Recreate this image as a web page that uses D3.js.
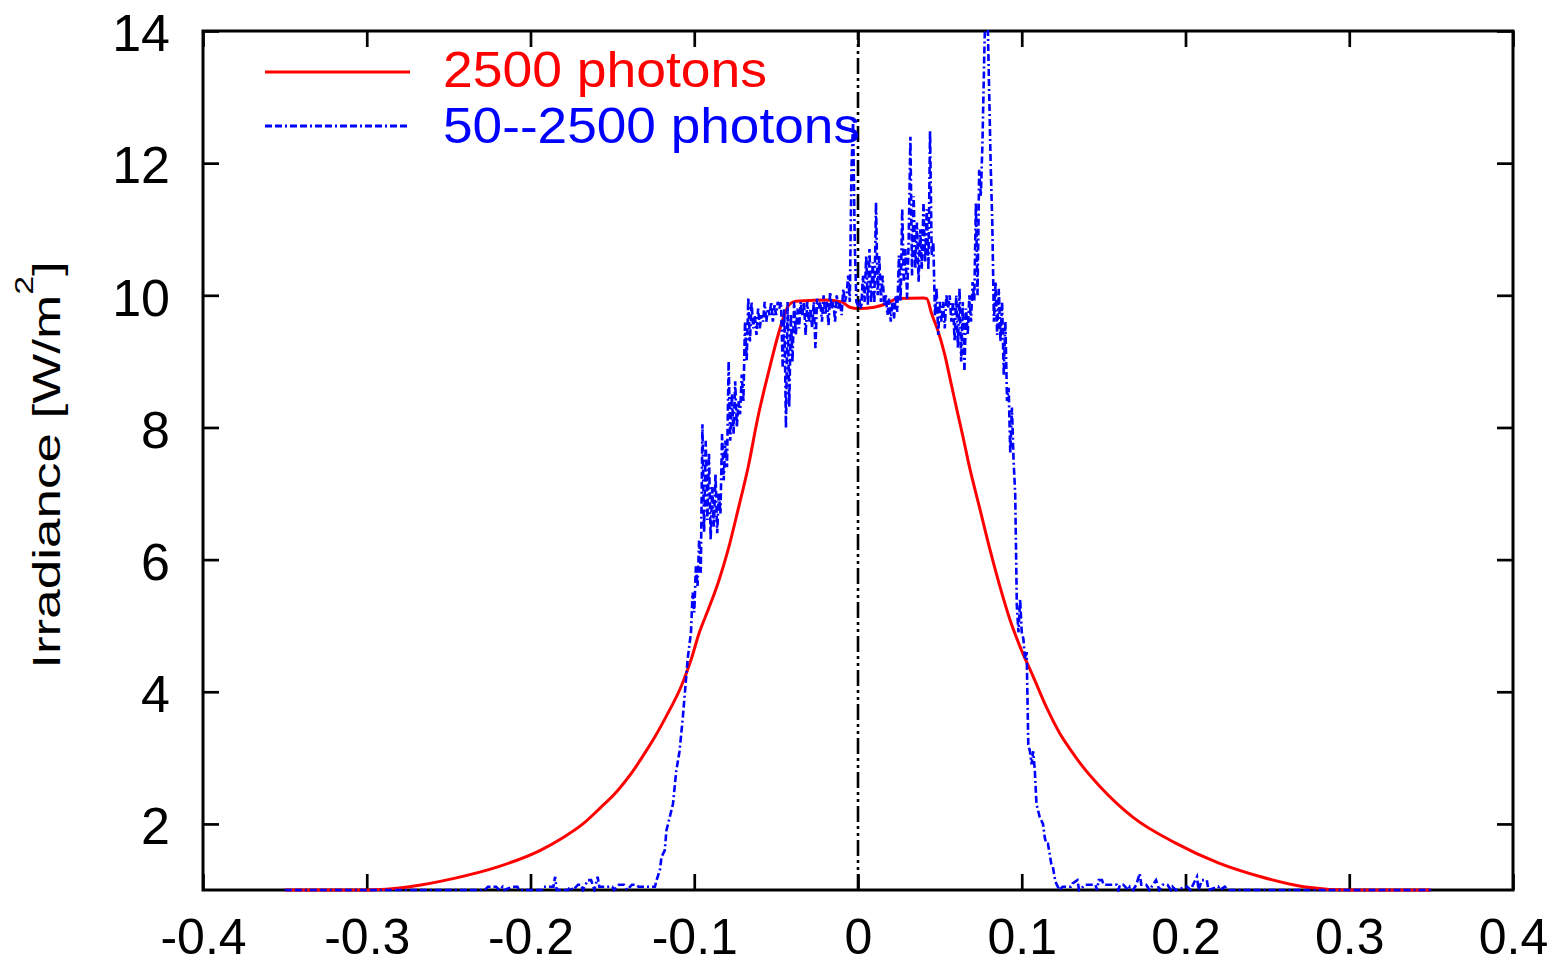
<!DOCTYPE html>
<html>
<head>
<meta charset="utf-8">
<script src="https://cdn.jsdelivr.net/npm/d3@7"></script>
<style>
html,body{margin:0;padding:0;background:#fff;}
svg{display:block;}
text{font-family:"Liberation Sans", Arial, Helvetica, sans-serif;}
</style>
</head>
<body>
<svg id="chart" width="1555" height="966"></svg>
<script>
// ---------- DATA ----------
const xTicks = [-0.4, -0.3, -0.2, -0.1, 0, 0.1, 0.2, 0.3, 0.4];
const xTickLabels = ["-0.4", "-0.3", "-0.2", "-0.1", "0", "0.1", "0.2", "0.3", "0.4"];
const yTicks = [2, 4, 6, 8, 10, 12, 14];
const yTickLabels = ["2", "4", "6", "8", "10", "12", "14"];
const seriesNames = ["2500 photons", "50--2500 photons"];
const yAxisTitle = "Irradiance [W/m";
const yAxisTitleSup = "2";

// red: 2500 photons
const redX = [-0.350, -0.300, -0.274, -0.246, -0.220, -0.194, -0.181, -0.168, -0.1575, -0.147,
  -0.138, -0.129, -0.124, -0.116, -0.108, -0.102, -0.097, -0.0915, -0.0854, -0.0793,
  -0.0732, -0.067, -0.061, -0.057, -0.053, -0.049, -0.045, -0.042, -0.038, -0.030,
  -0.020, -0.010, -0.005, 0.000, 0.010, 0.018, 0.024, 0.040, 0.042, 0.045,
  0.049, 0.053, 0.057, 0.061, 0.0641, 0.068, 0.0745, 0.0806, 0.0867, 0.0928,
  0.099, 0.107, 0.115, 0.123, 0.131, 0.1356, 0.148, 0.168, 0.194, 0.220,
  0.246, 0.272, 0.300, 0.350];
const redY = [1.0, 1.0, 1.05, 1.18, 1.35, 1.6, 1.78, 2.0, 2.24, 2.5,
  2.78, 3.12, 3.32, 3.68, 4.08, 4.48, 4.89, 5.24, 5.65, 6.15,
  6.76, 7.41, 8.17, 8.6, 9.0, 9.38, 9.7, 9.86, 9.91, 9.92,
  9.93, 9.9, 9.82, 9.8, 9.82, 9.88, 9.95, 9.96, 9.95, 9.72,
  9.45, 9.1, 8.65, 8.2, 7.86, 7.41, 6.76, 6.15, 5.59, 5.09,
  4.68, 4.23, 3.77, 3.38, 3.08, 2.92, 2.56, 2.1, 1.71, 1.41,
  1.2, 1.05, 1.0, 1.0];

// blue: 50--2500 photons
const blueX = [
  -0.350, -0.300, -0.240, -0.228, -0.226, -0.221, -0.219, -0.217, -0.216, -0.211,
  -0.208, -0.207, -0.193, -0.192, -0.186, -0.185, -0.184, -0.177, -0.176, -0.174,
  -0.171, -0.169, -0.168, -0.165, -0.163, -0.161, -0.159, -0.158, -0.150, -0.149,
  -0.146, -0.143, -0.141, -0.138, -0.136, -0.134, -0.124, -0.123, -0.121, -0.120,
  -0.118, -0.117, -0.115, -0.113, -0.111, -0.109, -0.107, -0.105, -0.104, -0.102,
  -0.101, -0.100, -0.099, -0.098, -0.097, -0.096, -0.095, -0.094, -0.093, -0.092,
  -0.091, -0.090, -0.089, -0.088, -0.087, -0.086, -0.085, -0.084, -0.083, -0.082,
  -0.081, -0.080, -0.079, -0.078, -0.077, -0.076, -0.075, -0.074, -0.073, -0.072,
  -0.071, -0.070, -0.069, -0.068, -0.067, -0.066, -0.065, -0.064, -0.063, -0.062,
  -0.061, -0.060, -0.059, -0.058, -0.057, -0.056, -0.055, -0.054, -0.053, -0.052,
  -0.051, -0.050, -0.049, -0.048, -0.047, -0.046, -0.045, -0.044, -0.043, -0.042,
  -0.041, -0.040, -0.039, -0.038, -0.037, -0.036, -0.035, -0.034, -0.033, -0.032,
  -0.031, -0.030, -0.029, -0.028, -0.027, -0.026, -0.025, -0.024, -0.023, -0.022,
  -0.021, -0.020, -0.019, -0.018, -0.017, -0.016, -0.015, -0.014, -0.013, -0.012,
  -0.011, -0.010, -0.009, -0.008, -0.007, -0.006, -0.005, -0.004, -0.003, -0.002,
  -0.001, 0.000, 0.001, 0.002, 0.003, 0.004, 0.005, 0.006, 0.007, 0.008,
  0.009, 0.010, 0.011, 0.012, 0.013, 0.014, 0.015, 0.016, 0.017, 0.018,
  0.019, 0.020, 0.021, 0.022, 0.023, 0.024, 0.025, 0.026, 0.027, 0.028,
  0.029, 0.030, 0.031, 0.032, 0.033, 0.034, 0.035, 0.036, 0.037, 0.038,
  0.039, 0.040, 0.041, 0.042, 0.043, 0.044, 0.045, 0.046, 0.047, 0.048,
  0.049, 0.050, 0.051, 0.052, 0.053, 0.054, 0.055, 0.056, 0.057, 0.058,
  0.059, 0.060, 0.061, 0.062, 0.063, 0.064, 0.065, 0.066, 0.067, 0.068,
  0.069, 0.070, 0.071, 0.072, 0.073, 0.074, 0.075, 0.076, 0.077, 0.078,
  0.079, 0.080, 0.081, 0.082, 0.083, 0.084, 0.085, 0.086, 0.087, 0.088,
  0.089, 0.090, 0.091, 0.092, 0.093, 0.094, 0.095, 0.096, 0.097, 0.098,
  0.099, 0.100, 0.101, 0.102, 0.103, 0.104, 0.105, 0.106, 0.107, 0.108,
  0.109, 0.110, 0.111, 0.112, 0.113, 0.114, 0.115, 0.116, 0.117, 0.118,
  0.119, 0.120, 0.121, 0.122, 0.123, 0.125, 0.130, 0.131, 0.134, 0.135,
  0.139, 0.145, 0.146, 0.147, 0.149, 0.150, 0.158, 0.159, 0.160, 0.162,
  0.165, 0.166, 0.168, 0.170, 0.172, 0.173, 0.176, 0.178, 0.182, 0.184,
  0.186, 0.189, 0.191, 0.192, 0.194, 0.201, 0.203, 0.207, 0.208, 0.210,
  0.213, 0.214, 0.220, 0.221, 0.224, 0.226, 0.260, 0.300, 0.350];
const blueY = [
  1.0, 1.0, 1.0, 1.0, 1.05, 1.05, 1.0, 1.05, 1.0, 1.05,
  1.05, 1.0, 1.0, 1.05, 1.05, 1.2, 1.0, 1.0, 1.05, 1.0,
  1.08, 1.08, 1.0, 1.15, 1.15, 1.0, 1.2, 1.05, 1.05, 1.0,
  1.08, 1.08, 1.0, 1.08, 1.08, 1.05, 1.05, 1.15, 1.3, 1.5,
  1.6, 1.9, 2.1, 2.3, 2.8, 3.1, 3.6, 4.2, 4.5, 4.9,
  5.5, 5.2, 5.9, 5.6, 6.3, 5.8, 8.05, 6.4, 7.8, 6.6,
  7.6, 6.3, 7.1, 6.5, 7.3, 6.4, 7.0, 6.7, 7.9, 7.2,
  7.8, 7.4, 9.0, 7.8, 8.5, 7.9, 8.7, 8.0, 8.4, 8.2,
  8.8, 8.4, 9.6, 9.0, 9.95, 9.3, 9.9, 9.5, 9.7, 9.4,
  9.8, 9.5, 9.7, 9.6, 9.9, 9.6, 9.8, 9.7, 9.9, 9.6,
  9.85, 9.7, 9.9, 9.8, 9.9, 8.9, 9.8, 8.0, 9.9, 8.3,
  9.7, 9.0, 9.9, 9.4, 9.8, 9.5, 9.9, 9.7, 9.9, 9.4,
  9.9, 9.6, 9.8, 9.5, 9.9, 9.2, 9.95, 9.8, 9.9, 9.6,
  10.0, 9.7, 9.9, 9.55, 10.05, 9.8, 9.9, 9.6, 10.0, 9.8,
  9.9, 9.7, 10.1, 9.9, 10.0, 10.3, 9.9, 11.9, 12.65, 10.8,
  9.9, 9.85, 9.9, 9.8, 10.3, 9.9, 10.6, 9.85, 10.7, 9.9,
  10.5, 9.9, 11.4, 10.0, 10.6, 9.9, 10.3, 9.85, 10.0, 9.7,
  9.95, 9.6, 9.9, 9.65, 10.0, 9.75, 10.6, 9.9, 11.3, 10.2,
  10.7, 9.95, 10.9, 12.4, 10.3, 11.5, 10.4, 11.1, 10.2, 11.0,
  10.4, 11.4, 10.5, 11.3, 10.4, 12.5, 10.6, 10.8, 9.7, 10.1,
  9.4, 9.9, 9.6, 9.9, 9.5, 10.0, 9.8, 10.0, 9.6, 9.9,
  9.3, 10.0, 9.2, 10.1, 9.0, 9.9, 8.85, 9.8, 9.4, 10.0,
  9.6, 10.2, 9.9, 11.4, 10.0, 11.9, 11.5, 12.3, 13.5, 14.6,
  14.4, 13.2, 12.0, 11.1, 9.6, 10.2, 9.4, 10.1, 9.3, 9.9,
  8.8, 9.6, 8.4, 8.6, 7.6, 8.3, 7.5, 7.0, 5.3, 4.9,
  5.4, 4.9, 4.8, 4.5, 4.6, 3.2, 3.1, 2.9, 3.1, 2.8,
  2.3, 2.2, 2.1, 2.05, 2.0, 1.8, 1.7, 1.7, 1.55, 1.4,
  1.35, 1.2, 1.1, 1.05, 1.0, 1.05, 1.05, 1.1, 1.15, 1.0,
  1.08, 1.08, 1.0, 1.15, 1.15, 1.08, 1.08, 1.0, 1.08, 1.08,
  1.0, 1.05, 1.0, 1.08, 1.25, 1.08, 1.08, 1.0, 1.15, 1.0,
  1.08, 1.08, 1.0, 1.05, 1.0, 1.05, 1.0, 1.2, 1.0, 1.15,
  1.15, 1.0, 1.05, 1.0, 1.05, 1.0, 1.0, 1.0, 1.0];

// ---------- CHART ----------
if (redX.length !== redY.length) console.error("red length mismatch", redX.length, redY.length);
if (blueX.length !== blueY.length) console.error("blue length mismatch", blueX.length, blueY.length);

const svg = d3.select("#chart");
const plot = {left: 203, right: 1513, top: 31, bottom: 890};
const x = d3.scaleLinear().domain([-0.4, 0.4]).range([plot.left, plot.right]);
const y = d3.scaleLinear().domain([1, 14]).range([plot.bottom, plot.top]);

svg.append("rect").attr("width", 1555).attr("height", 966).attr("fill", "#fff");

svg.append("defs").append("clipPath").attr("id", "clip")
  .append("rect").attr("x", plot.left).attr("y", plot.top - 1)
  .attr("width", plot.right - plot.left).attr("height", plot.bottom - plot.top + 3);

const TICK = 16, FS = 52, XFS = 50;
function styleAxis(g, fs) {
  g.select(".domain").remove();
  g.selectAll(".tick line").attr("stroke", "#000").attr("stroke-width", 2.7);
  g.selectAll(".tick text").attr("fill", "#000").attr("font-size", fs || FS)
    .attr("font-family", '"Liberation Sans", Arial, Helvetica, sans-serif');
}

// bottom axis
svg.append("g").attr("transform", `translate(0,${plot.bottom})`)
  .call(d3.axisBottom(x).tickValues(xTicks).tickFormat((d, i) => xTickLabels[i])
    .tickSizeInner(-TICK).tickSizeOuter(0).tickPadding(28))
  .call(g => styleAxis(g, XFS));
// top axis
svg.append("g").attr("transform", `translate(0,${plot.top})`)
  .call(d3.axisTop(x).tickValues(xTicks).tickFormat("").tickSizeInner(-TICK).tickSizeOuter(0))
  .call(g => styleAxis(g));
// left axis
svg.append("g").attr("transform", `translate(${plot.left},0)`)
  .call(d3.axisLeft(y).tickValues(yTicks).tickFormat((d, i) => yTickLabels[i])
    .tickSizeInner(-TICK).tickSizeOuter(0).tickPadding(33))
  .call(g => styleAxis(g))
  .call(g => g.selectAll(".tick text").attr("dy", "0.38em"));
// right axis
svg.append("g").attr("transform", `translate(${plot.right},0)`)
  .call(d3.axisRight(y).tickValues(yTicks).tickFormat("").tickSizeInner(-TICK).tickSizeOuter(0))
  .call(g => styleAxis(g));

// frame
svg.append("rect").attr("x", plot.left).attr("y", plot.top)
  .attr("width", plot.right - plot.left).attr("height", plot.bottom - plot.top)
  .attr("fill", "none").attr("stroke", "#000").attr("stroke-width", 3);

const dataLayer = svg.append("g").attr("clip-path", "url(#clip)");

// red curve
const redData = redX.map((v, i) => [v, redY[i]]);
dataLayer.append("path").datum(redData)
  .attr("fill", "none").attr("stroke", "#ff0000").attr("stroke-width", 3)
  .attr("d", d3.line().x(d => x(d[0])).y(d => y(d[1])).curve(d3.curveMonotoneX));

// zero line
dataLayer.append("path").datum([[0, 1], [0, 14]])
  .attr("fill", "none").attr("stroke", "#000").attr("stroke-width", 2.6)
  .attr("stroke-dasharray", "16,4,3,4,3,4")
  .attr("d", d3.line().x(d => x(d[0])).y(d => y(d[1])));

// blue curve
const blueData = blueX.map((v, i) => [v, blueY[i]]);
dataLayer.append("path").datum(blueData)
  .attr("fill", "none").attr("stroke", "#0000ff").attr("stroke-width", 2.6)
  .attr("stroke-dasharray", "7,3,7,3,2,3")
  .attr("d", d3.line().x(d => x(d[0])).y(d => y(d[1])));

// legend
const LFS = 50;
const legend = svg.append("g");
const legendItems = [
  {name: seriesNames[0], color: "#ff0000", dash: null, ly: 72, ty: 87, x2: 410, len: 324},
  {name: seriesNames[1], color: "#0000ff", dash: "7,3,7,3,2,3", ly: 126, ty: 143, x2: 407, len: 417}
];
legendItems.forEach(it => {
  legend.append("line").attr("x1", 265).attr("x2", it.x2).attr("y1", it.ly).attr("y2", it.ly)
    .attr("stroke", it.color).attr("stroke-width", 3)
    .attr("stroke-dasharray", it.dash);
  legend.append("text").attr("x", 443).attr("y", it.ty).attr("fill", it.color)
    .attr("font-size", LFS).attr("textLength", it.len)
    .attr("lengthAdjust", "spacingAndGlyphs").text(it.name);
});

// y-axis title
const title = svg.append("text")
  .attr("transform", "translate(60,465) rotate(-90) scale(1,0.74)")
  .attr("text-anchor", "middle").attr("font-size", 53).attr("fill", "#000");
title.append("tspan").text(yAxisTitle);
title.append("tspan").attr("font-size", 34).attr("dy", -36).text(yAxisTitleSup);
title.append("tspan").attr("dy", 36).text("]");
</script>
</body>
</html>
